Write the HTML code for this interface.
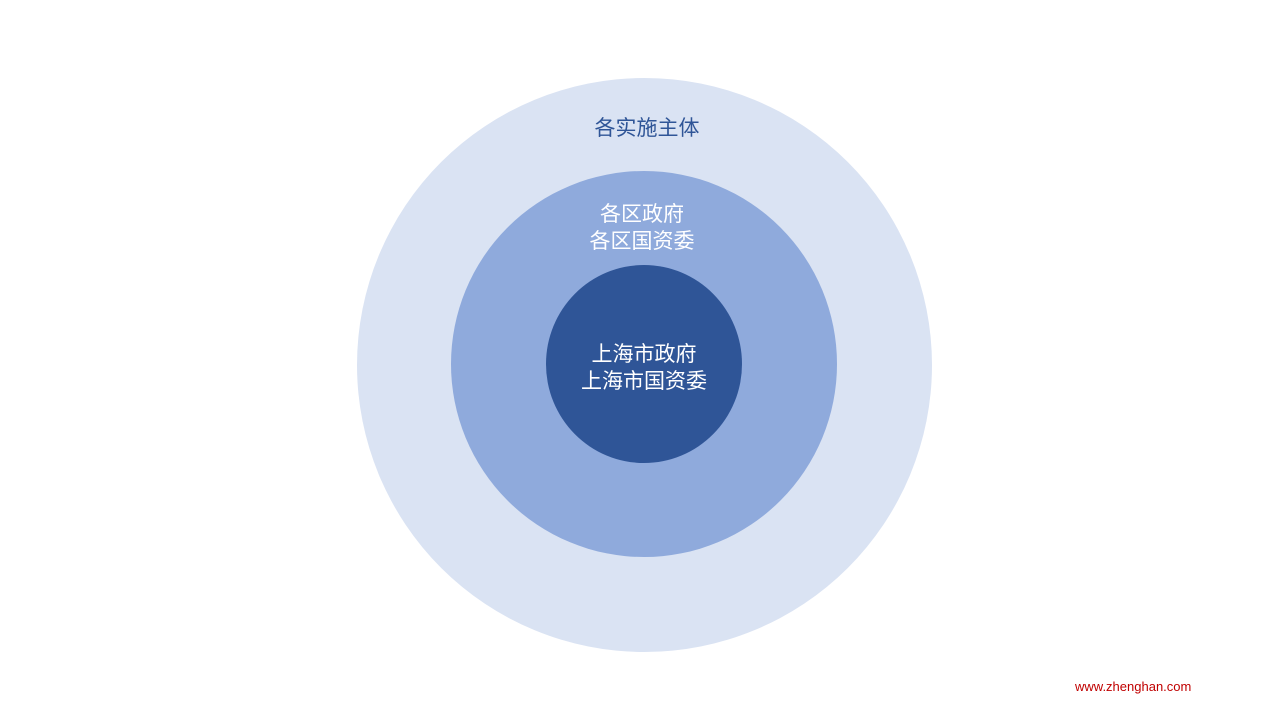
<!DOCTYPE html>
<html><head><meta charset="utf-8"><style>
html,body{margin:0;padding:0;background:#fff;}
body{width:1280px;height:720px;position:relative;overflow:hidden;font-family:"Liberation Sans","Noto Sans CJK SC",sans-serif;}
.c{position:absolute;border-radius:50%;}
.t{position:absolute;width:400px;text-align:center;font-size:21px;line-height:27px;font-family:"Liberation Sans","Noto Sans CJK SC",sans-serif;}
</style></head><body>
<div class="c" style="left:357px;top:78px;width:575px;height:574px;background:#dae3f3"></div>
<div class="c" style="left:451px;top:171px;width:386px;height:386px;background:#8faadc"></div>
<div class="c" style="left:546px;top:265px;width:196px;height:198px;background:#2f5597"></div>
<div class="t" style="left:447px;top:115px;color:#2f5597">各实施主体</div>
<div class="t" style="left:442px;top:201px;color:#fff">各区政府<br>各区国资委</div>
<div class="t" style="left:444px;top:341px;color:#fff">上海市政府<br>上海市国资委</div>
<div style="position:absolute;left:1075px;top:679px;font-size:13px;color:#c00000;font-family:'Liberation Sans',sans-serif">www.zhenghan.com</div>
</body></html>
